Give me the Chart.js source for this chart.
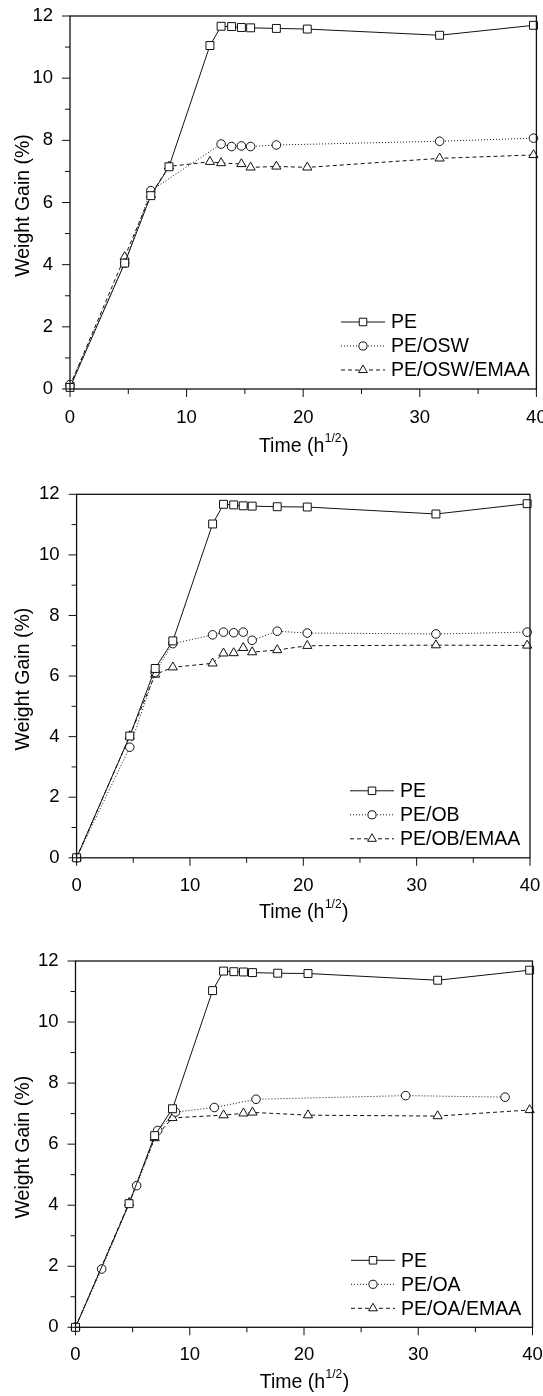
<!DOCTYPE html>
<html>
<head>
<meta charset="utf-8">
<script src="https://cdn.jsdelivr.net/npm/chart.js@4.4.1/dist/chart.umd.min.js"></script>
<style>
  html, body { margin: 0; padding: 0; background: #fff; }
  .panel { position: absolute; left: 0; width: 543px; }
  canvas { display: block; }
</style>
</head>
<body>
<div class="panel" style="top:0"><canvas id="c1" width="543" height="465"></canvas></div>
<div class="panel" style="top:465px"><canvas id="c2" width="543" height="465"></canvas></div>
<div class="panel" style="top:930px"><canvas id="c3" width="543" height="466"></canvas></div>
<script>
// axes
const xTicks = [0, 10, 20, 30, 40];
const xMinor = [5, 15, 25, 35];
const yTicks = [0, 2, 4, 6, 8, 10, 12];
const yMinor = [1, 3, 5, 7, 9, 11];

// time in h^1/2 for the PE runs (same sampling in all three panels)
const peTime = [0, 4.69, 6.93, 8.49, 12.0, 12.96, 13.86, 14.7, 15.49, 17.7, 20.35, 31.7, 39.75];

// panel 1 : OSW
const peGain1 = [0.05, 4.05, 6.22, 7.15, 11.05, 11.67, 11.66, 11.63, 11.62, 11.6, 11.58, 11.38, 11.7];
const oswTime = [0, 4.69, 6.93, 12.96, 13.86, 14.7, 15.49, 17.7, 31.7, 39.75];
const oswGain = [0.14, 4.05, 6.38, 7.88, 7.8, 7.82, 7.8, 7.85, 7.97, 8.07];
const oswEmaaTime = [0, 4.69, 6.93, 8.49, 12.0, 12.96, 14.7, 15.49, 17.7, 20.35, 31.7, 39.75];
const oswEmaaGain = [0.1, 4.25, 6.25, 7.16, 7.31, 7.27, 7.24, 7.13, 7.16, 7.13, 7.42, 7.53];

// panel 2 : OB
const peGain2 = [0, 4.02, 6.25, 7.16, 11.02, 11.67, 11.65, 11.62, 11.61, 11.59, 11.58, 11.35, 11.69];
const obTime = [0, 4.69, 6.93, 8.49, 12.0, 12.96, 13.86, 14.7, 15.49, 17.7, 20.35, 31.7, 39.75];
const obGain = [0, 3.65, 6.12, 7.07, 7.36, 7.45, 7.43, 7.45, 7.18, 7.48, 7.42, 7.39, 7.45];
const obEmaaGain = [0, 4.02, 6.05, 6.29, 6.42, 6.75, 6.76, 6.93, 6.79, 6.86, 7.0, 7.02, 7.01];

// panel 3 : OA
const peGain3 = [0, 4.05, 6.28, 7.16, 11.03, 11.67, 11.65, 11.64, 11.62, 11.6, 11.59, 11.37, 11.7];
const oaTime = [0, 2.29, 5.35, 7.2, 8.75, 12.15, 15.8, 28.9, 37.6];
const oaGain = [0, 1.91, 4.64, 6.45, 7.05, 7.2, 7.47, 7.59, 7.54];
const oaEmaaTime = [0, 4.69, 6.93, 8.49, 12.96, 14.7, 15.49, 20.35, 31.7, 39.75];
const oaEmaaGain = [0, 4.08, 6.2, 6.86, 6.95, 7.01, 7.04, 6.95, 6.92, 7.12];

const FONT = '"Liberation Sans", Arial, sans-serif';
const INK = '#111';
const STYLE = ['rect', 'circle', 'triangle'];
const RAD = [5.6, 4.3, 5.3];
const DASH = [[], [1, 2], [4, 3]];

const pts = (xs, ys) => xs.map((x, i) => ({ x, y: ys[i] }));

function marker(ctx, style, x, y, r) {
  ctx.beginPath();
  if (style === 'rect') {
    const s = r * Math.SQRT1_2;
    ctx.rect(x - s, y - s, 2 * s, 2 * s);
  } else if (style === 'circle') {
    ctx.arc(x, y, r, 0, Math.PI * 2);
  } else {
    ctx.moveTo(x, y - r);
    ctx.lineTo(x + r * 0.866, y + r / 2);
    ctx.lineTo(x - r * 0.866, y + r / 2);
    ctx.closePath();
  }
  ctx.fillStyle = '#fff'; ctx.fill();
  ctx.strokeStyle = INK; ctx.stroke();
}

// frame, tick marks, axis titles and legend
const decor = {
  id: 'decor',
  afterDraw(chart, args, o) {
    const { ctx, chartArea: a, scales: { x, y } } = chart;
    ctx.save();
    ctx.strokeStyle = INK;
    ctx.lineWidth = 1.3;
    ctx.strokeRect(a.left, a.top, a.right - a.left, a.bottom - a.top);

    ctx.lineWidth = 1;
    ctx.beginPath();
    for (const v of xTicks) { const p = x.getPixelForValue(v); ctx.moveTo(p, a.bottom); ctx.lineTo(p, a.bottom + 8); }
    for (const v of xMinor) { const p = x.getPixelForValue(v); ctx.moveTo(p, a.bottom); ctx.lineTo(p, a.bottom + 5); }
    for (const v of yTicks) { const p = y.getPixelForValue(v); ctx.moveTo(a.left, p); ctx.lineTo(a.left - 8, p); }
    for (const v of yMinor) { const p = y.getPixelForValue(v); ctx.moveTo(a.left, p); ctx.lineTo(a.left - 5, p); }
    ctx.stroke();

    // x title with superscript
    ctx.fillStyle = '#000';
    ctx.textBaseline = 'middle';
    ctx.font = `19.5px ${FONT}`;
    const t1 = 'Time (h', t3 = ')';
    const w1 = ctx.measureText(t1).width, w3 = ctx.measureText(t3).width;
    ctx.font = `12px ${FONT}`;
    const w2 = ctx.measureText('1/2').width;
    const cx = (a.left + a.right) / 2 - (w1 + w2 + w3) / 2;
    ctx.textAlign = 'left';
    ctx.font = `19.5px ${FONT}`;
    ctx.fillText(t1, cx, o.titleY);
    ctx.font = `12px ${FONT}`;
    ctx.fillText('1/2', cx + w1 + 0.5, o.titleY - 8);
    ctx.font = `19.5px ${FONT}`;
    ctx.fillText(t3, cx + w1 + w2 + 1, o.titleY);

    // y title
    ctx.save();
    ctx.translate(24, (a.top + a.bottom) / 2 + 3);
    ctx.rotate(-Math.PI / 2);
    ctx.textAlign = 'center';
    ctx.fillText('Weight Gain (%)', 0, 0);
    ctx.restore();

    // legend
    chart.data.datasets.forEach((ds, i) => {
      const ly = a.bottom - 67 + i * 24;
      const lx = o.legendX;
      ctx.save();
      ctx.lineWidth = 1;
      ctx.setLineDash(DASH[i]);
      ctx.beginPath();
      ctx.moveTo(lx, ly); ctx.lineTo(lx + 44, ly);
      ctx.stroke();
      ctx.setLineDash([]);
      marker(ctx, STYLE[i], lx + 22, ly, RAD[i] * 0.95);
      ctx.restore();
      ctx.fillStyle = '#000';
      ctx.textAlign = 'left';
      ctx.font = `19.5px ${FONT}`;
      ctx.fillText(ds.label, lx + 50, ly + 1);
    });
    ctx.restore();
  }
};

function makeChart(id, box, sets) {
  return new Chart(document.getElementById(id), {
    type: 'line',
    data: {
      datasets: sets.map((s, i) => ({
        label: s.label,
        data: pts(s.x, s.y),
        borderColor: INK,
        borderWidth: 1,
        borderDash: DASH[i],
        pointStyle: STYLE[i],
        pointRadius: RAD[i],
        pointHoverRadius: RAD[i],
        pointBackgroundColor: '#fff',
        pointBorderColor: INK,
        pointBorderWidth: 1,
        tension: 0,
        fill: false,
        clip: false,
      })),
    },
    options: {
      responsive: false,
      animation: false,
      events: [],
      layout: { padding: { left: 0, right: 543 - box.right, top: box.plotTop, bottom: 0 } },
      plugins: {
        legend: { display: false },
        tooltip: { enabled: false },
        decor: { titleY: box.titleY, legendX: box.legendX },
      },
      scales: {
        x: {
          type: 'linear', min: 0, max: 40,
          afterBuildTicks: (s) => { s.ticks = xTicks.map((v) => ({ value: v })); },
          afterFit: (s) => { s.height = box.h - box.plotBottom; s.paddingLeft = 0; s.paddingRight = 0; },
          grid: { display: false },
          border: { display: false },
          ticks: { color: '#000', padding: box.xPad, maxRotation: 0, font: { family: FONT, size: 18.5 } },
        },
        y: {
          type: 'linear', min: 0, max: 12,
          afterBuildTicks: (s) => { s.ticks = yTicks.map((v) => ({ value: v })); },
          afterFit: (s) => { s.width = box.left; s.paddingTop = 0; s.paddingBottom = 0; },
          grid: { display: false },
          border: { display: false },
          ticks: { color: '#000', padding: 9, font: { family: FONT, size: 18.5 } },
        },
      },
    },
    plugins: [decor],
  });
}

makeChart('c1', { h: 465, left: 70, right: 537, plotTop: 16, plotBottom: 389, titleY: 447, legendX: 341, xPad: 10 }, [
  { label: 'PE', x: peTime, y: peGain1 },
  { label: 'PE/OSW', x: oswTime, y: oswGain },
  { label: 'PE/OSW/EMAA', x: oswEmaaTime, y: oswEmaaGain },
]);

makeChart('c2', { h: 465, left: 76.6, right: 530, plotTop: 29.3, plotBottom: 392.8, titleY: 448, legendX: 350, xPad: 9 }, [
  { label: 'PE', x: peTime, y: peGain2 },
  { label: 'PE/OB', x: obTime, y: obGain },
  { label: 'PE/OB/EMAA', x: obTime, y: obEmaaGain },
]);

makeChart('c3', { h: 466, left: 75.5, right: 532.5, plotTop: 31, plotBottom: 397.3, titleY: 453, legendX: 351, xPad: 9 }, [
  { label: 'PE', x: peTime, y: peGain3 },
  { label: 'PE/OA', x: oaTime, y: oaGain },
  { label: 'PE/OA/EMAA', x: oaEmaaTime, y: oaEmaaGain },
]);
</script>
</body>
</html>
